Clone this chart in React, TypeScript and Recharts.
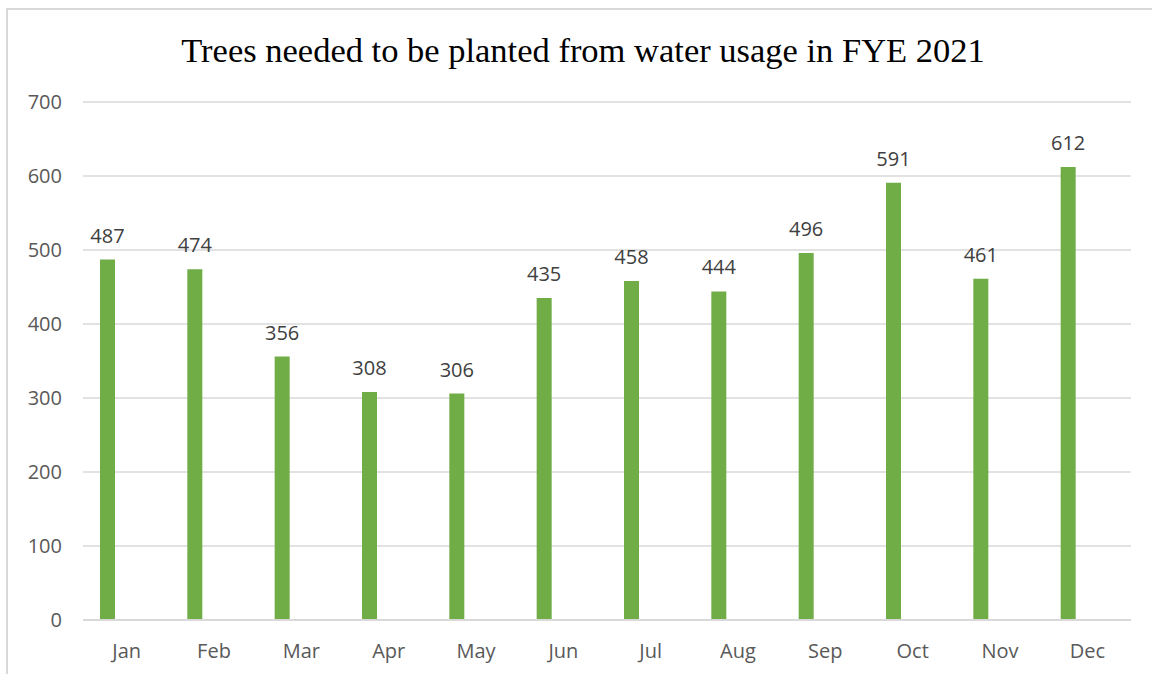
import React from 'react';
import { BarChart, Bar, XAxis, YAxis, CartesianGrid, LabelList } from 'recharts';

const months = ['Jan', 'Feb', 'Mar', 'Apr', 'May', 'Jun', 'Jul', 'Aug', 'Sep', 'Oct', 'Nov', 'Dec'];
const trees = [487, 474, 356, 308, 306, 435, 458, 444, 496, 591, 461, 612];
const yTicks = [0, 100, 200, 300, 400, 500, 600, 700];

const data = months.map((month, i) => ({ month, trees: trees[i], blank: null }));

const axisFont = { fill: '#595959', fontSize: 20, fontFamily: 'Open Sans, sans-serif' };

export default function App() {
  return (
    <div
      style={{
        position: 'absolute',
        left: 6,
        top: 8,
        width: 1146,
        height: 666,
        borderLeft: '2px solid #d9d9d9',
        borderTop: '2px solid #d9d9d9',
        background: '#fff',
        overflow: 'hidden',
      }}
    >
      <div
        style={{
          position: 'absolute',
          left: 0,
          width: 1150,
          top: 21,
          textAlign: 'center',
          fontFamily: '"Liberation Serif", "Times New Roman", serif',
          fontSize: 34.5,
          color: '#000',
        }}
      >
        Trees needed to be planted from water usage in FYE 2021
      </div>
      <BarChart
        width={1144}
        height={664}
        data={data}
        margin={{ top: 92, right: 21, left: 0, bottom: 0 }}
        barSize={15}
        barGap={23}
      >
        <CartesianGrid vertical={false} stroke="#d9d9d9" strokeWidth={1.5} />
        <XAxis
          dataKey="month"
          height={54}
          tickLine={false}
          axisLine={{ stroke: '#d9d9d9', strokeWidth: 2 }}
          tick={axisFont}
          tickMargin={18}
        />
        <YAxis
          width={75}
          domain={[0, 700]}
          ticks={yTicks}
          axisLine={false}
          tickLine={false}
          tick={axisFont}
          tickMargin={15}
        />
        <Bar dataKey="trees" fill="#70ad47" isAnimationActive={false}>
          <LabelList
            dataKey="trees"
            position="top"
            offset={17}
            fill="#404040"
            fontSize={20}
            fontFamily="Open Sans, sans-serif"
          />
        </Bar>
        <Bar dataKey="blank" fill="#ffffff" isAnimationActive={false} />
      </BarChart>
    </div>
  );
}
